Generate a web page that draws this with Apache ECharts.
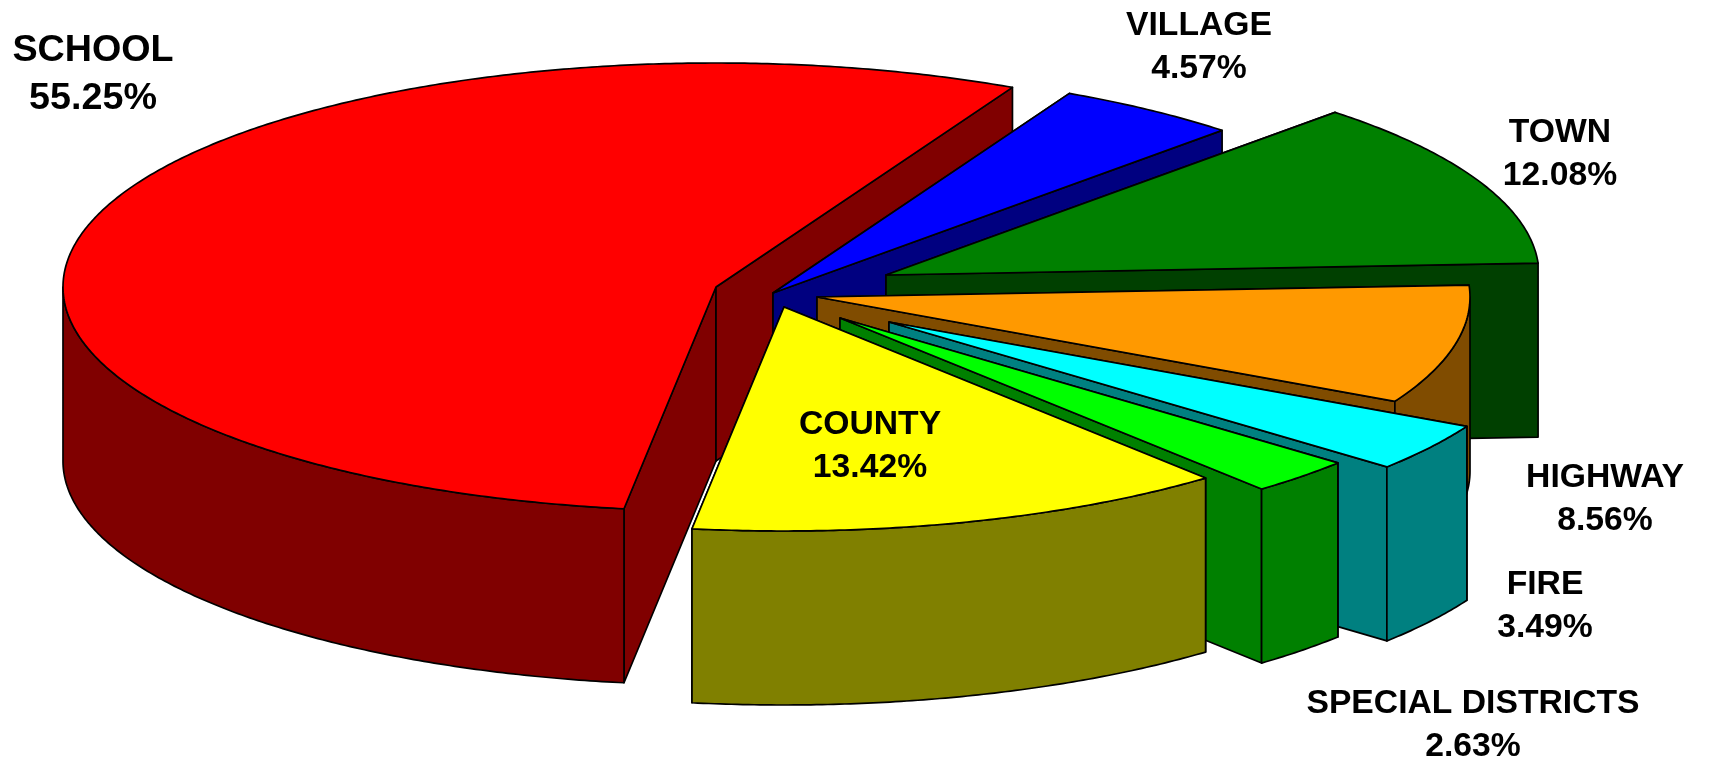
<!DOCTYPE html>
<html>
<head>
<meta charset="utf-8">
<style>html,body{margin:0;padding:0;background:#fff}#c{width:1712px;height:762px}</style>
<script src="https://cdn.jsdelivr.net/npm/echarts@6/dist/echarts.min.js"></script>
</head>
<body>
<div id="c"></div>
<script>
// Data
const categories = ['SCHOOL','VILLAGE','TOWN','HIGHWAY','FIRE','SPECIAL DISTRICTS','COUNTY'];
const shares = [55.25,4.57,12.08,8.56,3.49,2.63,13.42];

// Style
const topColors  = ['#FF0000','#0000FF','#008000','#FF9900','#00FFFF','#00FF00','#FFFF00'];
const sideColors = ['#800000','#000080','#004000','#804C00','#008080','#008000','#808000'];

// Layout of the exploded 3D pie (px)
const apexX = [716,773,886,817,889,840,784];
const apexY = [287,293,275,297,322,318,307];
const labelX = [93,1199,1560,1605,1545,1473,870];
const labelY = [75,47,154,499,606,725,446];
const labelSize = [37.7,33.7,33.7,33.7,33.7,33.7,33.7];
const RX = 653, RY = 224, DEPTH = 174, START_DEG = 188.1;

const total = shares.reduce((a,b)=>a+b,0);
const starts = [];
shares.reduce((acc,v,i)=>{starts[i]=acc;return acc+v/total*360;},START_DEG);

function rim(i,deg){
  const r=deg*Math.PI/180;
  return [apexX[i]+RX*Math.sin(r),apexY[i]-RY*Math.cos(r)];
}
function poly(points,fill){
  return {type:'polygon',shape:{points},style:{fill,stroke:'#000',lineWidth:1.7,lineJoin:'round'}};
}
function arc(i,a,b){
  const pts=[];const n=Math.max(2,Math.ceil((b-a)/0.5));
  for(let k=0;k<=n;k++)pts.push(rim(i,a+(b-a)*k/n));
  return pts;
}
function renderSlice(params,api){
  const i=params.dataIndex;
  const value=api.value(0);
  const a=starts[i]%360, b=a+value/total*360;
  const A=[apexX[i],apexY[i]];
  const down=p=>[p[0],p[1]+DEPTH];
  const children=[];
  const side=sideColors[i];
  const pa=rim(i,a), pb=rim(i,b);
  children.push(poly([A,pa,down(pa),down(A)],side));
  children.push(poly([A,pb,down(pb),down(A)],side));
  // outer wall: only the front half of the rim (90..270 deg) faces the viewer
  const wa=Math.max(a,90), wb=Math.min(b,270);
  if(wb>wa){
    const top=arc(i,wa,wb);
    children.push(poly(top.concat(top.slice().reverse().map(p=>down(p))),side));
  }
  children.push(poly([A].concat(arc(i,a,b)),topColors[i]));
  children.push({type:'text',z2:50,style:{
    x:labelX[i],y:labelY[i],
    text:categories[i]+'\n'+value.toFixed(2)+'%',
    align:'center',verticalAlign:'middle',
    fontFamily:'"Liberation Sans",Arial,sans-serif',fontWeight:'bold',
    fontSize:labelSize[i],lineHeight:i===0?48:43,fill:'#000'
  }});
  return {type:'group',children};
}
const chart=echarts.init(document.getElementById('c'),null,{renderer:'canvas',width:1712,height:762});
chart.setOption({
  backgroundColor:'#fff',
  animation:false,
  series:[{
    type:'custom',
    coordinateSystem:'none',
    silent:true,
    renderItem:renderSlice,
    encode:{value:0,itemName:1},
    data:shares.map((v,i)=>({name:categories[i],value:[v]}))
  }]
});
</script>
</body>
</html>
